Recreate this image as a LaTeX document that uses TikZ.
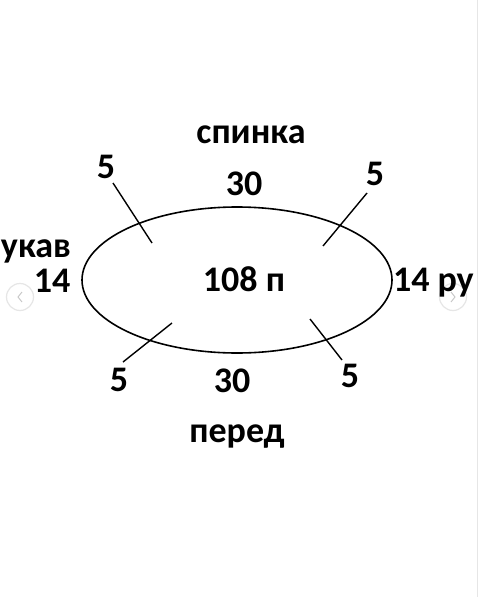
\documentclass[tikz,border=0pt]{standalone}
\usepackage{fontspec}
\setmainfont{Carlito}
\usetikzlibrary{shapes.geometric}
\definecolor{iconline}{HTML}{E6E6E6}
\definecolor{iconarrow}{HTML}{C8C8C8}
\begin{document}
\begin{tikzpicture}[x=1pt,y=-1pt,
  lbl/.style={inner sep=0pt,outer sep=0pt,font=\fontsize{36}{40}\selectfont\bfseries},
  tick/.style={line width=1.4pt,black},
  icon/.style={draw=iconline,line width=1.2pt,fill=white,circle,minimum size=27pt,inner sep=0pt}]
\useasboundingbox (0,0) rectangle (480,597);
\fill[white] (0,0) rectangle (480,597);
% carousel icons (behind text)
\node[icon] (prev) at (20,297) {};
\draw[iconarrow,line width=1pt] ([shift={(2,-5)}]prev.center) -- ([shift={(-2,0)}]prev.center) -- ([shift={(2,5)}]prev.center);
\node[icon] (next) at (453,297) {};
\draw[iconarrow,line width=1pt] ([shift={(-2,-5)}]next.center) -- ([shift={(2,0)}]next.center) -- ([shift={(-2,5)}]next.center);
% ellipse
\node[ellipse,draw,line width=1.6pt,minimum width=310pt,minimum height=146pt,inner sep=0pt] (oval) at (237,280) {};
% tick end points
\coordinate (tla) at (113,183); \coordinate (tlb) at (152,243);
\coordinate (tra) at (367,193); \coordinate (trb) at (323,246);
\coordinate (bla) at (172,323); \coordinate (blb) at (123,362);
\coordinate (bra) at (310,319); \coordinate (brb) at (342,360);
\draw[tick] (tla) -- (tlb);
\draw[tick] (tra) -- (trb);
\draw[tick] (bla) -- (blb);
\draw[tick] (bra) -- (brb);
% labels
\node[lbl,anchor=base] (back) at (251,143) {спинка};
\node[lbl,anchor=base] (backn) at (244,195) {30};
\node[lbl,anchor=base] (tl5) at (106,178) {5};
\node[lbl,anchor=base] (tr5) at (375,185) {5};
\node[lbl,anchor=base west] (lsl) at (1,257) {укав};
\node[lbl,anchor=base] (lsln) at (52,292) {14};
\node[lbl,anchor=base] (total) at (244,291) {108 п};
\node[lbl,anchor=base west] (rsl) at (393,291) {14 ру};
\node[lbl,anchor=base] (bl5) at (119,391) {5};
\node[lbl,anchor=base] (frontn) at (232,392) {30};
\node[lbl,anchor=base] (front) at (237,442) {перед};
\node[lbl,anchor=base] (br5) at (350,387) {5};
\draw[iconline,line width=1pt] (477,0) -- (477,597);
\end{tikzpicture}
\end{document}
